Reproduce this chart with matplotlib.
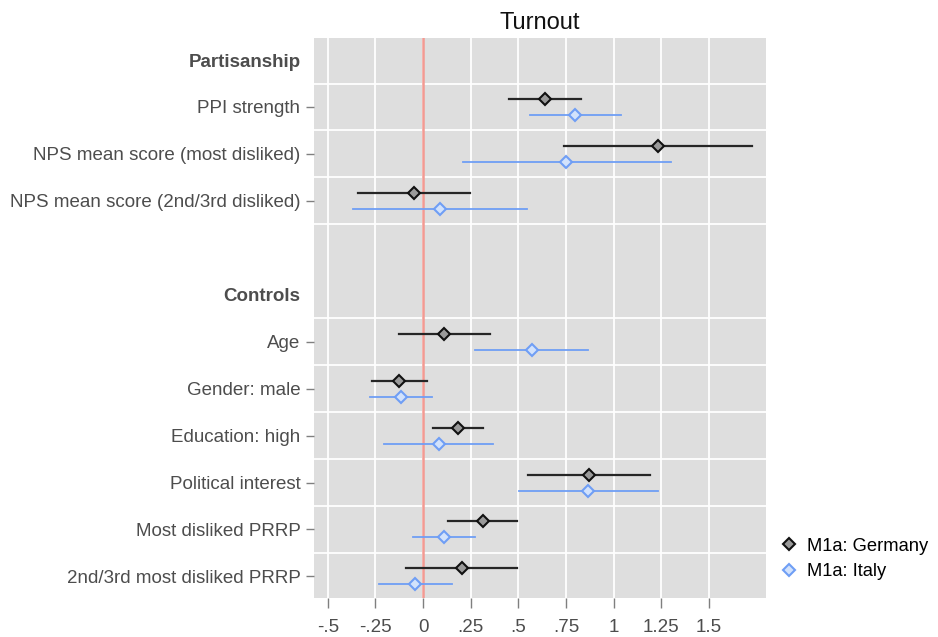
import matplotlib
matplotlib.use("Agg")
import matplotlib.pyplot as plt
from matplotlib.lines import Line2D
import numpy as np

plt.rcParams['font.family'] = ['Liberation Sans', 'DejaVu Sans']

# ---- data ----
row_labels = ["Partisanship", "PPI strength", "NPS mean score (most disliked)",
              "NPS mean score (2nd/3rd disliked)", "", "Controls", "Age",
              "Gender: male", "Education: high", "Political interest",
              "Most disliked PRRP", "2nd/3rd most disliked PRRP"]
header_rows = ["Partisanship", "Controls"]

variables = ["PPI strength", "NPS mean score (most disliked)",
             "NPS mean score (2nd/3rd disliked)", "Age", "Gender: male",
             "Education: high", "Political interest", "Most disliked PRRP",
             "2nd/3rd most disliked PRRP"]

germany_est = [0.639, 1.234, -0.049, 0.110, -0.124, 0.182, 0.872, 0.312, 0.205]
germany_lo = [0.450, 0.742, -0.343, -0.126, -0.266, 0.053, 0.550, 0.131, -0.089]
germany_hi = [0.830, 1.728, 0.245, 0.350, 0.019, 0.313, 1.192, 0.495, 0.495]

italy_est = [0.798, 0.751, 0.089, 0.571, -0.116, 0.082, 0.868, 0.110, -0.040]
italy_lo = [0.562, 0.207, -0.366, 0.270, -0.277, -0.205, 0.502, -0.054, -0.231]
italy_hi = [1.038, 1.301, 0.544, 0.868, 0.046, 0.369, 1.233, 0.273, 0.151]

x_ticks = [-0.5, -0.25, 0, 0.25, 0.5, 0.75, 1, 1.25, 1.5]
x_tick_labels = ["-.5", "-.25", "0", ".25", ".5", ".75", "1", "1.25", "1.5"]

series_names = ["M1a: Germany", "M1a: Italy"]
title = "Turnout"

# ---- figure ----
fig = plt.figure(figsize=(9.38, 6.37), dpi=100)
ax = fig.add_axes([0.3351, 0.0612, 0.4815, 0.8799])
ax.set_facecolor("#dedede")

ypos = {lab: i for i, lab in enumerate(row_labels)}
ax.set_ylim(11.46, -0.48)
ax.set_xlim(-0.571, 1.80)

# grid
for xt in x_ticks:
    ax.axvline(xt, color="white", lw=1.3, zorder=1)
for i in range(len(row_labels) - 1):
    if row_labels[i] == "":
        continue
    ax.axhline(i + 0.5, color="white", lw=1.3, zorder=1)

ax.axvline(0, color="#f39a92", lw=1.8, zorder=2)

off = 0.17
g_col = "#262626"
i_col = "#6f9ef5"
for k, v in enumerate(variables):
    y = ypos[v]
    ax.plot([germany_lo[k], germany_hi[k]], [y - off, y - off], color=g_col, lw=1.6, zorder=3)
    ax.plot(germany_est[k], y - off, marker="D", ms=6.5, mfc="#9a9a9a", mec="#111111", mew=1.5, zorder=4)
    ax.plot([italy_lo[k], italy_hi[k]], [y + off, y + off], color=i_col, lw=1.3, zorder=3)
    ax.plot(italy_est[k], y + off, marker="D", ms=6.5, mfc="#d2e2fc", mec=i_col, mew=1.5, zorder=4)

# y ticks
ticks_idx = [i for i, l in enumerate(row_labels) if l != ""]
ax.set_yticks(ticks_idx)
ax.set_yticklabels([row_labels[i] for i in ticks_idx])
for t, i in zip(ax.yaxis.get_major_ticks(), ticks_idx):
    if row_labels[i] in header_rows:
        t.tick1line.set_visible(False)
        t.label1.set_fontweight("bold")
ax.tick_params(axis="y", length=6, width=1, color="#7f7f7f", labelsize=13.5,
               labelcolor="#4d4d4d", pad=4)

ax.set_xticks(x_ticks)
ax.set_xticklabels(x_tick_labels)
ax.tick_params(axis="x", length=7, width=1, color="#7f7f7f", labelsize=13.5,
               labelcolor="#4d4d4d", pad=8)

for s in ax.spines.values():
    s.set_visible(False)

ax.set_title(title, fontsize=17, pad=6, color="#111111")

handles = [
    Line2D([], [], ls="none", marker="D", ms=6.5, mfc="#9a9a9a", mec="#111111", mew=1.5),
    Line2D([], [], ls="none", marker="D", ms=6.5, mfc="#d2e2fc", mec=i_col, mew=1.5),
]
fig.legend(handles, series_names, loc="center left",
           bbox_to_anchor=(0.824, 1 - 559 / 637), frameon=False,
           fontsize=13.2, handlelength=1.0, handletextpad=0.45, labelspacing=0.45,
           borderaxespad=0)

fig.savefig("out.png", dpi=100)
